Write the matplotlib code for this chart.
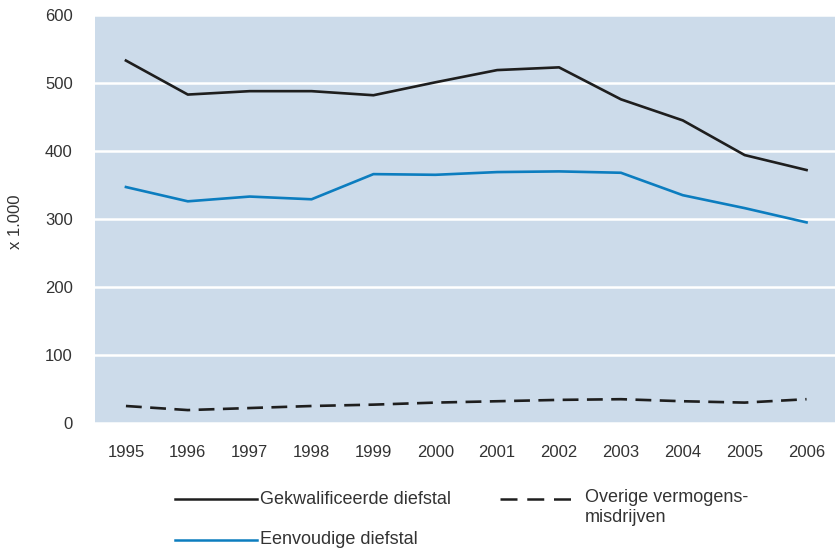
"""
Vermogensmisdrijven 1995-2006 (x 1.000)
"""

import matplotlib as mpl
import matplotlib.pyplot as plt
from matplotlib.lines import Line2D

mpl.rcParams["font.family"] = ["Liberation Sans", "DejaVu Sans"]

years = [1995, 1996, 1997, 1998, 1999, 2000, 2001, 2002, 2003, 2004, 2005, 2006]
gekwalificeerd = [533, 483, 488, 488, 482, 501, 519, 523, 476, 445, 394, 372]
eenvoudig = [347, 326, 333, 329, 366, 365, 369, 370, 368, 335, 316, 295]
overig = [25, 19, 22, 25, 27, 30, 32, 34, 35, 32, 30, 35]

labels = ["Gekwalificeerde diefstal", "Eenvoudige diefstal", "Overige vermogens-\nmisdrijven"]
yticks = [0, 100, 200, 300, 400, 500, 600]

BG = "#CCDBEA"
BLACK = "#1E1E1E"
BLUE = "#0C7DBF"
TEXT = "#333333"
W, H = 835, 552

fig = plt.figure(figsize=(W / 100, H / 100), dpi=100)
ax = fig.add_axes([95 / W, 1 - 423 / H, 1 - 95 / W, (423 - 15) / H])
ax.set_facecolor(BG)

ax.plot(years, gekwalificeerd, color=BLACK, lw=1.9)
ax.plot(years, eenvoudig, color=BLUE, lw=1.9)
ax.plot(years, overig, color=BLACK, lw=1.9, ls=(0, (6, 3.2)))

ax.set_xlim(1994.5, 2006.46)
ax.set_ylim(0, 600)
ax.set_yticks(yticks)
ax.set_xticks(years)
ax.set_xticklabels([str(y) for y in years])
ax.tick_params(length=0, labelsize=12, labelcolor=TEXT)
ax.tick_params(axis="y", pad=16)
ax.tick_params(axis="x", pad=16)
ax.grid(axis="y", color="white", lw=1.8)
ax.set_axisbelow(True)
for s in ax.spines.values():
    s.set_visible(False)

fig.text(16 / W, 1 - 222 / H, "x 1.000", rotation=90, ha="center", va="center",
         fontsize=12, color=TEXT)

# legend, drawn by hand to match the layout
def px(x, y):
    return x / W, 1 - y / H

for (x0, x1, y), color, ls in [((175, 257, 499), BLACK, "-"),
                               ((175, 257, 540), BLUE, "-"),
                               ((500, 573, 499), BLACK, (0, (6.8, 3.9)))]:
    (fx0, fy), (fx1, _) = px(x0, y), px(x1, y)
    fig.add_artist(Line2D([fx0, fx1], [fy, fy], color=color, lw=1.8, ls=ls,
                          transform=fig.transFigure))

fig.text(*px(260, 499), labels[0], ha="left", va="center", fontsize=13, color=TEXT)
fig.text(*px(260, 540), labels[1], ha="left", va="center", fontsize=13, color=TEXT)
fig.text(*px(585, 489), labels[2], ha="left", va="top", fontsize=13, color=TEXT,
         linespacing=1.25)

plt.savefig("out.png", dpi=100)
